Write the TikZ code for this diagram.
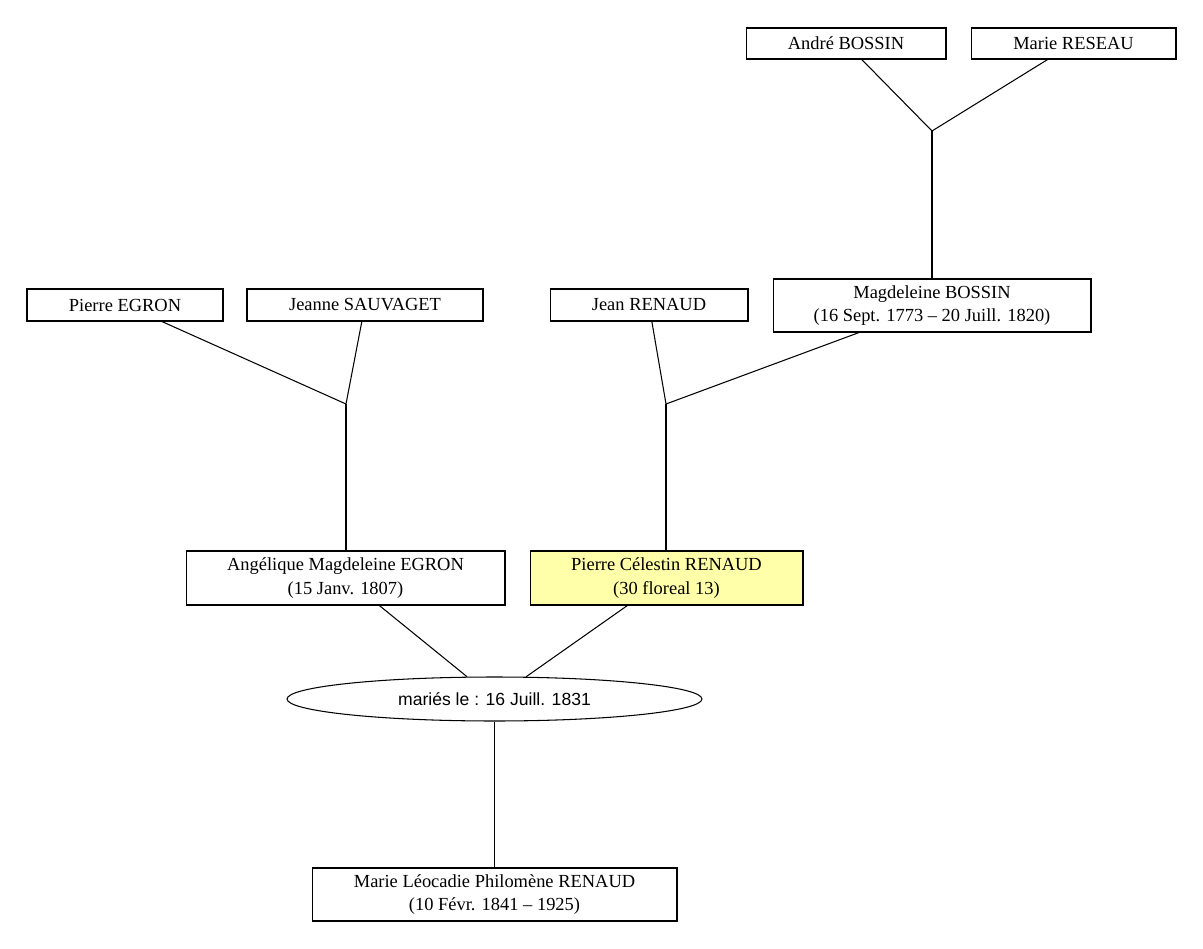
\documentclass[tikz,border=0pt]{standalone}
\usepackage{fontspec}
\setmainfont{Liberation Serif}
\newfontfamily\weddingfont{Liberation Sans}
\usetikzlibrary{shapes.geometric}
\definecolor{paleyellow}{HTML}{FFFFAA}

\begin{document}
\begin{tikzpicture}[x=0.02cm, y=-0.02cm, line width=0.6pt,
    person/.style={draw, rectangle, inner sep=0pt, align=center,
      font=\fontsize{10.5}{13.5}\selectfont},
    wedding/.style={draw, ellipse, inner sep=0pt,
      font=\weddingfont\fontsize{10}{12}\selectfont}]
  \useasboundingbox (0,0) rectangle (1203,949);
  % grand-parents
  \node[person, minimum width=4cm, minimum height=0.62cm] (andre) at (846,43.5) {André BOSSIN};
  \node[person, minimum width=4.1cm, minimum height=0.62cm] (reseau) at (1073.5,43.5) {Marie RESEAU};
  \node[person, minimum width=3.92cm, minimum height=0.64cm] (pegron) at (125,305) {Pierre EGRON};
  \node[person, minimum width=4.72cm, minimum height=0.64cm] (sauvaget) at (365,305) {Jeanne SAUVAGET};
  \node[person, minimum width=3.96cm, minimum height=0.64cm] (jrenaud) at (649,305) {Jean RENAUD};
  \node[person, minimum width=6.36cm, minimum height=1.06cm] (mbossin) at (932,305.5)
    {Magdeleine BOSSIN\\(16 Sept. 1773 -- 20 Juill. 1820)};
  % parents
  \node[person, minimum width=6.38cm, minimum height=1.08cm] (aegron) at (345.5,578)
    {Angélique Magdeleine EGRON\\(15 Janv. 1807)};
  \node[person, fill=paleyellow, minimum width=5.46cm, minimum height=1.08cm] (prenaud) at (666.5,578)
    {Pierre Célestin RENAUD\\(30 floreal 13)};
  \node[wedding, minimum width=8.3cm, minimum height=0.88cm] (maries) at (494.5,699)
    {mariés le : 16 Juill. 1831};
  \node[person, minimum width=7.3cm, minimum height=1.06cm] (mlrenaud) at (494.5,894.5)
    {Marie Léocadie Philomène RENAUD\\(10 Févr. 1841 -- 1925)};
  % couples
  \coordinate (bossins) at (932,131);
  \coordinate (egrons) at (346,404);
  \coordinate (renauds) at (666,404);
  \draw (andre) -- (bossins);
  \draw (reseau) -- (bossins);
  \draw (bossins) -- (mbossin);
  \draw (pegron) -- (egrons);
  \draw (sauvaget) -- (egrons);
  \draw (egrons) -- (egrons |- aegron.north);
  \draw (jrenaud) -- (renauds);
  \draw (mbossin) -- (renauds);
  \draw (renauds) -- (renauds |- prenaud.north);
  \draw (aegron) -- (maries);
  \draw (prenaud) -- (maries);
  \draw (maries) -- (mlrenaud);
\end{tikzpicture}
\end{document}
